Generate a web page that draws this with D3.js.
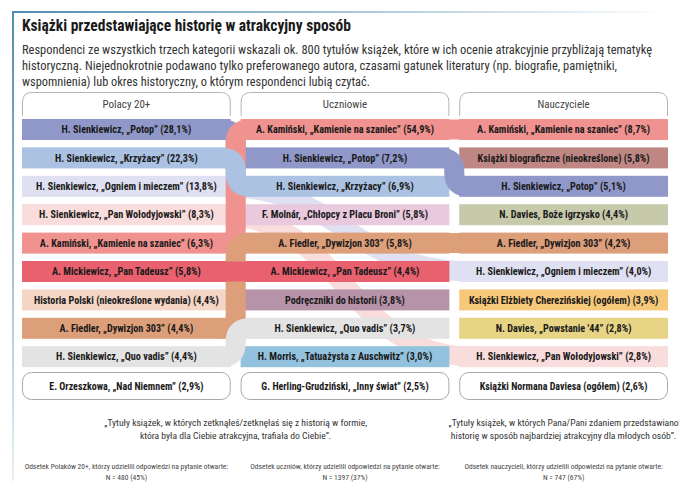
<!DOCTYPE html>
<html><head><meta charset="utf-8">
<script src="https://cdn.jsdelivr.net/npm/d3@7"></script>
<style>
body{margin:0;background:#fff;}
svg text{font-family:"Liberation Sans Narrow","Roboto Condensed","DejaVu Sans Condensed","Liberation Sans",sans-serif;}
</style></head><body><svg id="c" width="680" height="492"></svg>
<script>
const groups = ["Polacy 20+", "Uczniowie", "Nauczyciele"];

const polacyTitles = ["H. Sienkiewicz, „Potop”", "H. Sienkiewicz, „Krzyżacy”", "H. Sienkiewicz, „Ogniem i mieczem”", "H. Sienkiewicz, „Pan Wołodyjowski”", "A. Kamiński, „Kamienie na szaniec”", "A. Mickiewicz, „Pan Tadeusz”", "Historia Polski (nieokreślone wydania)", "A. Fiedler, „Dywizjon 303”", "H. Sienkiewicz, „Quo vadis”"];
const polacyValues = [28.1, 22.3, 13.8, 8.3, 6.3, 5.8, 4.4, 4.4, 4.4];

const uczniowieTitles = ["A. Kamiński, „Kamienie na szaniec”", "H. Sienkiewicz, „Potop”", "H. Sienkiewicz, „Krzyżacy”", "F. Molnár, „Chłopcy z Placu Broni”", "A. Fiedler, „Dywizjon 303”", "A. Mickiewicz, „Pan Tadeusz”", "Podręczniki do historii", "H. Sienkiewicz, „Quo vadis”", "H. Morris, „Tatuażysta z Auschwitz”"];
const uczniowieValues = [54.9, 7.2, 6.9, 5.8, 5.8, 4.4, 3.8, 3.7, 3.0];

const nauczycieleTitles = ["A. Kamiński, „Kamienie na szaniec”", "Książki biograficzne (nieokreślone)", "H. Sienkiewicz, „Potop”", "N. Davies, Boże igrzysko", "A. Fiedler, „Dywizjon 303”", "H. Sienkiewicz, „Ogniem i mieczem”", "Książki Elżbiety Cherezińskiej (ogółem)", "N. Davies, „Powstanie '44”", "H. Sienkiewicz, „Pan Wołodyjowski”"];
const nauczycieleValues = [8.7, 5.8, 5.1, 4.4, 4.2, 4.0, 3.9, 2.8, 2.8];

const extraTitles = ["E. Orzeszkowa, „Nad Niemnem”", "G. Herling-Grudziński, „Inny świat”", "Książki Normana Daviesa (ogółem)"];
const extraValues = [2.9, 2.5, 2.6];

const titleText = "Książki przedstawiające historię w atrakcyjny sposób";
const subtitleLines = [
  "Respondenci ze wszystkich trzech kategorii wskazali ok. 800 tytułów książek, które w ich ocenie atrakcyjnie przybliżają tematykę",
  "historyczną. Niejednokrotnie podawano tylko preferowanego autora, czasami gatunek literatury (np. biografie, pamiętniki,",
  "wspomnienia) lub okres historyczny, o którym respondenci lubią czytać."
];
const quoteStudents = ["„Tytuły książek, w których zetknąłeś/zetknęłaś się z historią w formie,", "która była dla Ciebie atrakcyjna, trafiała do Ciebie”."];
const quoteTeachers = ["„Tytuły książek, w których Pana/Pani zdaniem przedstawiano", "historię w sposób najbardziej atrakcyjny dla młodych osób”."];
const footnotes = [
  ["Odsetek Polaków 20+, którzy udzielili odpowiedzi na pytanie otwarte:", "N = 480 (45%)"],
  ["Odsetek uczniów, którzy udzielili odpowiedzi na pytanie otwarte:", "N = 1397 (37%)"],
  ["Odsetek nauczycieli, którzy udzielili odpowiedzi na pytanie otwarte:", "N = 747 (67%)"]
];

const colors = {
  "H. Sienkiewicz, „Potop”": "#8f98c9",
  "H. Sienkiewicz, „Krzyżacy”": "#abc2e2",
  "H. Sienkiewicz, „Ogniem i mieczem”": "#dfe0f1",
  "H. Sienkiewicz, „Pan Wołodyjowski”": "#f9dcdc",
  "A. Kamiński, „Kamienie na szaniec”": "#f0928f",
  "A. Mickiewicz, „Pan Tadeusz”": "#e9616f",
  "Historia Polski (nieokreślone wydania)": "#f4d5c6",
  "A. Fiedler, „Dywizjon 303”": "#dd9e7a",
  "H. Sienkiewicz, „Quo vadis”": "#e3e3e3",
  "F. Molnár, „Chłopcy z Placu Broni”": "#e9c9dd",
  "Podręczniki do historii": "#b693a9",
  "H. Morris, „Tatuażysta z Auschwitz”": "#92c2de",
  "Książki biograficzne (nieokreślone)": "#bf8783",
  "N. Davies, Boże igrzysko": "#c6c9aa",
  "Książki Elżbiety Cherezińskiej (ogółem)": "#f6c97a",
  "N. Davies, „Powstanie '44”": "#e7d585"
};
const linkZOrder = ["H. Sienkiewicz, „Potop”", "A. Kamiński, „Kamienie na szaniec”", "H. Sienkiewicz, „Krzyżacy”", "A. Fiedler, „Dywizjon 303”", "H. Sienkiewicz, „Quo vadis”", "A. Mickiewicz, „Pan Tadeusz”"];

const columns = [
  {titles: polacyTitles, values: polacyValues},
  {titles: uczniowieTitles, values: uczniowieValues},
  {titles: nauczycieleTitles, values: nauczycieleValues}
];
const fmt = v => d3.format(".1f")(v).replace(".", ",") + "%";

const svg = d3.select("#c");
const defs = svg.append("defs");
const gTop = defs.append("linearGradient").attr("id", "gt").attr("x1", "0").attr("x2", "1").attr("y1", "0").attr("y2", "0");
gTop.append("stop").attr("offset", "0").attr("stop-color", "#4f8bb0");
gTop.append("stop").attr("offset", "1").attr("stop-color", "#ffffff");
const gLeft = defs.append("linearGradient").attr("id", "gl").attr("x1", "0").attr("x2", "0").attr("y1", "0").attr("y2", "1");
gLeft.append("stop").attr("offset", "0").attr("stop-color", "#4f8bb0");
gLeft.append("stop").attr("offset", "1").attr("stop-color", "#e8f0f5");

svg.append("rect").attr("x", 12).attr("y", 11).attr("width", 660).attr("height", 2).attr("fill", "url(#gt)");
svg.append("rect").attr("x", 12).attr("y", 11).attr("width", 2).attr("height", 470).attr("fill", "url(#gl)");

svg.append("text").attr("x", 22).attr("y", 31).attr("font-size", 16).attr("font-weight", "bold").attr("fill", "#1a1a1a")
  .attr("textLength", 329).attr("lengthAdjust", "spacingAndGlyphs").text(titleText);
const subLens = [630, 595, 348];
subtitleLines.forEach((l, i) => {
  svg.append("text").attr("x", 22).attr("y", 54 + i * 16).attr("font-size", 12.5).attr("fill", "#333")
    .attr("textLength", subLens[i]).attr("lengthAdjust", "spacingAndGlyphs").text(l);
});

const x = d3.scaleBand().domain(groups).range([22, 668]).paddingInner(0.045);
const y = d3.scaleBand().domain(d3.range(9)).range([119, 367.2]).paddingInner(0.26);
const bw = x.bandwidth(), bh = y.bandwidth();

// headers
groups.forEach(g => {
  const x0 = x(g), x1 = x(g) + bw, y0 = 92, y1 = 116, r = 10;
  svg.append("path").attr("d", `M${x0 + 0.5},${y1} V${y0 + r} Q${x0 + 0.5},${y0 + 0.5} ${x0 + r},${y0 + 0.5} H${x1 - r} Q${x1 - 0.5},${y0 + 0.5} ${x1 - 0.5},${y0 + r} V${y1}`)
    .attr("fill", "none").attr("stroke", "#b5b5b5").attr("stroke-width", 1);
  svg.append("text").attr("x", x0 + bw / 2).attr("y", 107.5).attr("text-anchor", "middle").attr("font-size", 11).attr("fill", "#444").text(g);
});

// links
const adjLinks = [], skipLinks = [];
for (let c = 0; c < 2; c++) {
  columns[c].titles.forEach((t, i) => {
    const j = columns[c + 1].titles.indexOf(t);
    if (j >= 0) adjLinks.push({t, c, i, j});
    else if (c + 2 < 3) {
      const k = columns[c + 2].titles.indexOf(t);
      if (k >= 0) skipLinks.push({t, c, i, j: k});
    }
  });
}
const lg1 = svg.append("g"), bg = svg.append("g"), lg2 = svg.append("g"), tg = svg.append("g");

skipLinks.forEach(l => {
  const xa = x(groups[l.c]) + bw - 15, xb = x(groups[l.c + 2]) + 15;
  const ya = y(l.i) + bh / 2, yb = y(l.j) + bh / 2, xc = (xa + xb) / 2;
  lg1.append("path").attr("d", `M${xa},${ya} C${xc},${ya} ${xc},${yb} ${xb},${yb}`)
    .attr("fill", "none").attr("stroke", colors[l.t]).attr("stroke-width", bh - 1);
});

columns.forEach((col, c) => {
  col.titles.forEach((t, i) => {
    bg.append("rect").attr("x", x(groups[c])).attr("y", y(i)).attr("width", bw).attr("height", bh).attr("fill", colors[t]);
    const cx = x(groups[c]) + bw / 2, cy = y(i) + bh / 2 + 3.7;
    tg.append("text").attr("transform", `translate(${cx},${cy}) scale(0.96,1)`).attr("text-anchor", "middle")
      .attr("font-size", 10.6).attr("font-weight", "bold").attr("fill", "#1a1a1a").text(`${t} (${fmt(col.values[i])})`);
  });
});

adjLinks.sort((a, b) => linkZOrder.indexOf(a.t) - linkZOrder.indexOf(b.t)).forEach(l => {
  const xa = x(groups[l.c]) + bw - 15, xb = x(groups[l.c + 1]) + 15;
  const xm = (x(groups[l.c]) + bw + x(groups[l.c + 1])) / 2;
  const ya = y(l.i) + bh / 2, yb = y(l.j) + bh / 2;
  let d;
  if (Math.abs(yb - ya) < 1) d = `M${xa},${ya} H${xb}`;
  else {
    const s = Math.sign(yb - ya), r = Math.min(13, Math.abs(yb - ya) / 2);
    d = `M${xa},${ya} H${xm - r} Q${xm},${ya} ${xm},${ya + s * r} V${yb - s * r} Q${xm},${yb} ${xm + r},${yb} H${xb}`;
  }
  lg2.append("path").attr("d", d).attr("fill", "none").attr("stroke", colors[l.t]).attr("stroke-width", bh - 1);
});

// bottom boxes
extraTitles.forEach((t, i) => {
  const g = groups[i];
  svg.append("rect").attr("x", x(g) + 0.5).attr("y", 372.5).attr("width", bw - 1).attr("height", 27).attr("rx", 9)
    .attr("fill", "#fff").attr("stroke", "#a8a8a8");
  svg.append("text").attr("transform", `translate(${x(g) + bw / 2},390) scale(0.87,1)`).attr("text-anchor", "middle").attr("font-size", 11.5)
    .attr("font-weight", "bold").attr("fill", "#1a1a1a").text(`${t} (${fmt(extraValues[i])})`);
});

// quotes
const qx1 = (x(groups[0]) + bw + x(groups[1])) / 2, qx2 = x(groups[2]) + bw / 2;
quoteStudents.forEach((l, i) => svg.append("text").attr("x", qx1).attr("y", 426 + i * 13).attr("text-anchor", "middle")
  .attr("font-size", 9.6).attr("fill", "#333").text(l));
quoteTeachers.forEach((l, i) => svg.append("text").attr("x", qx2).attr("y", 426 + i * 13).attr("text-anchor", "middle")
  .attr("font-size", 9.6).attr("fill", "#333").text(l));
footnotes.forEach((f, c) => f.forEach((l, i) => {
  svg.append("text").attr("x", x(groups[c]) + bw / 2).attr("y", 469 + i * 11)
    .attr("text-anchor", "middle").attr("font-size", 7.5).attr("fill", "#444").text(l);
}));
</script></body></html>
